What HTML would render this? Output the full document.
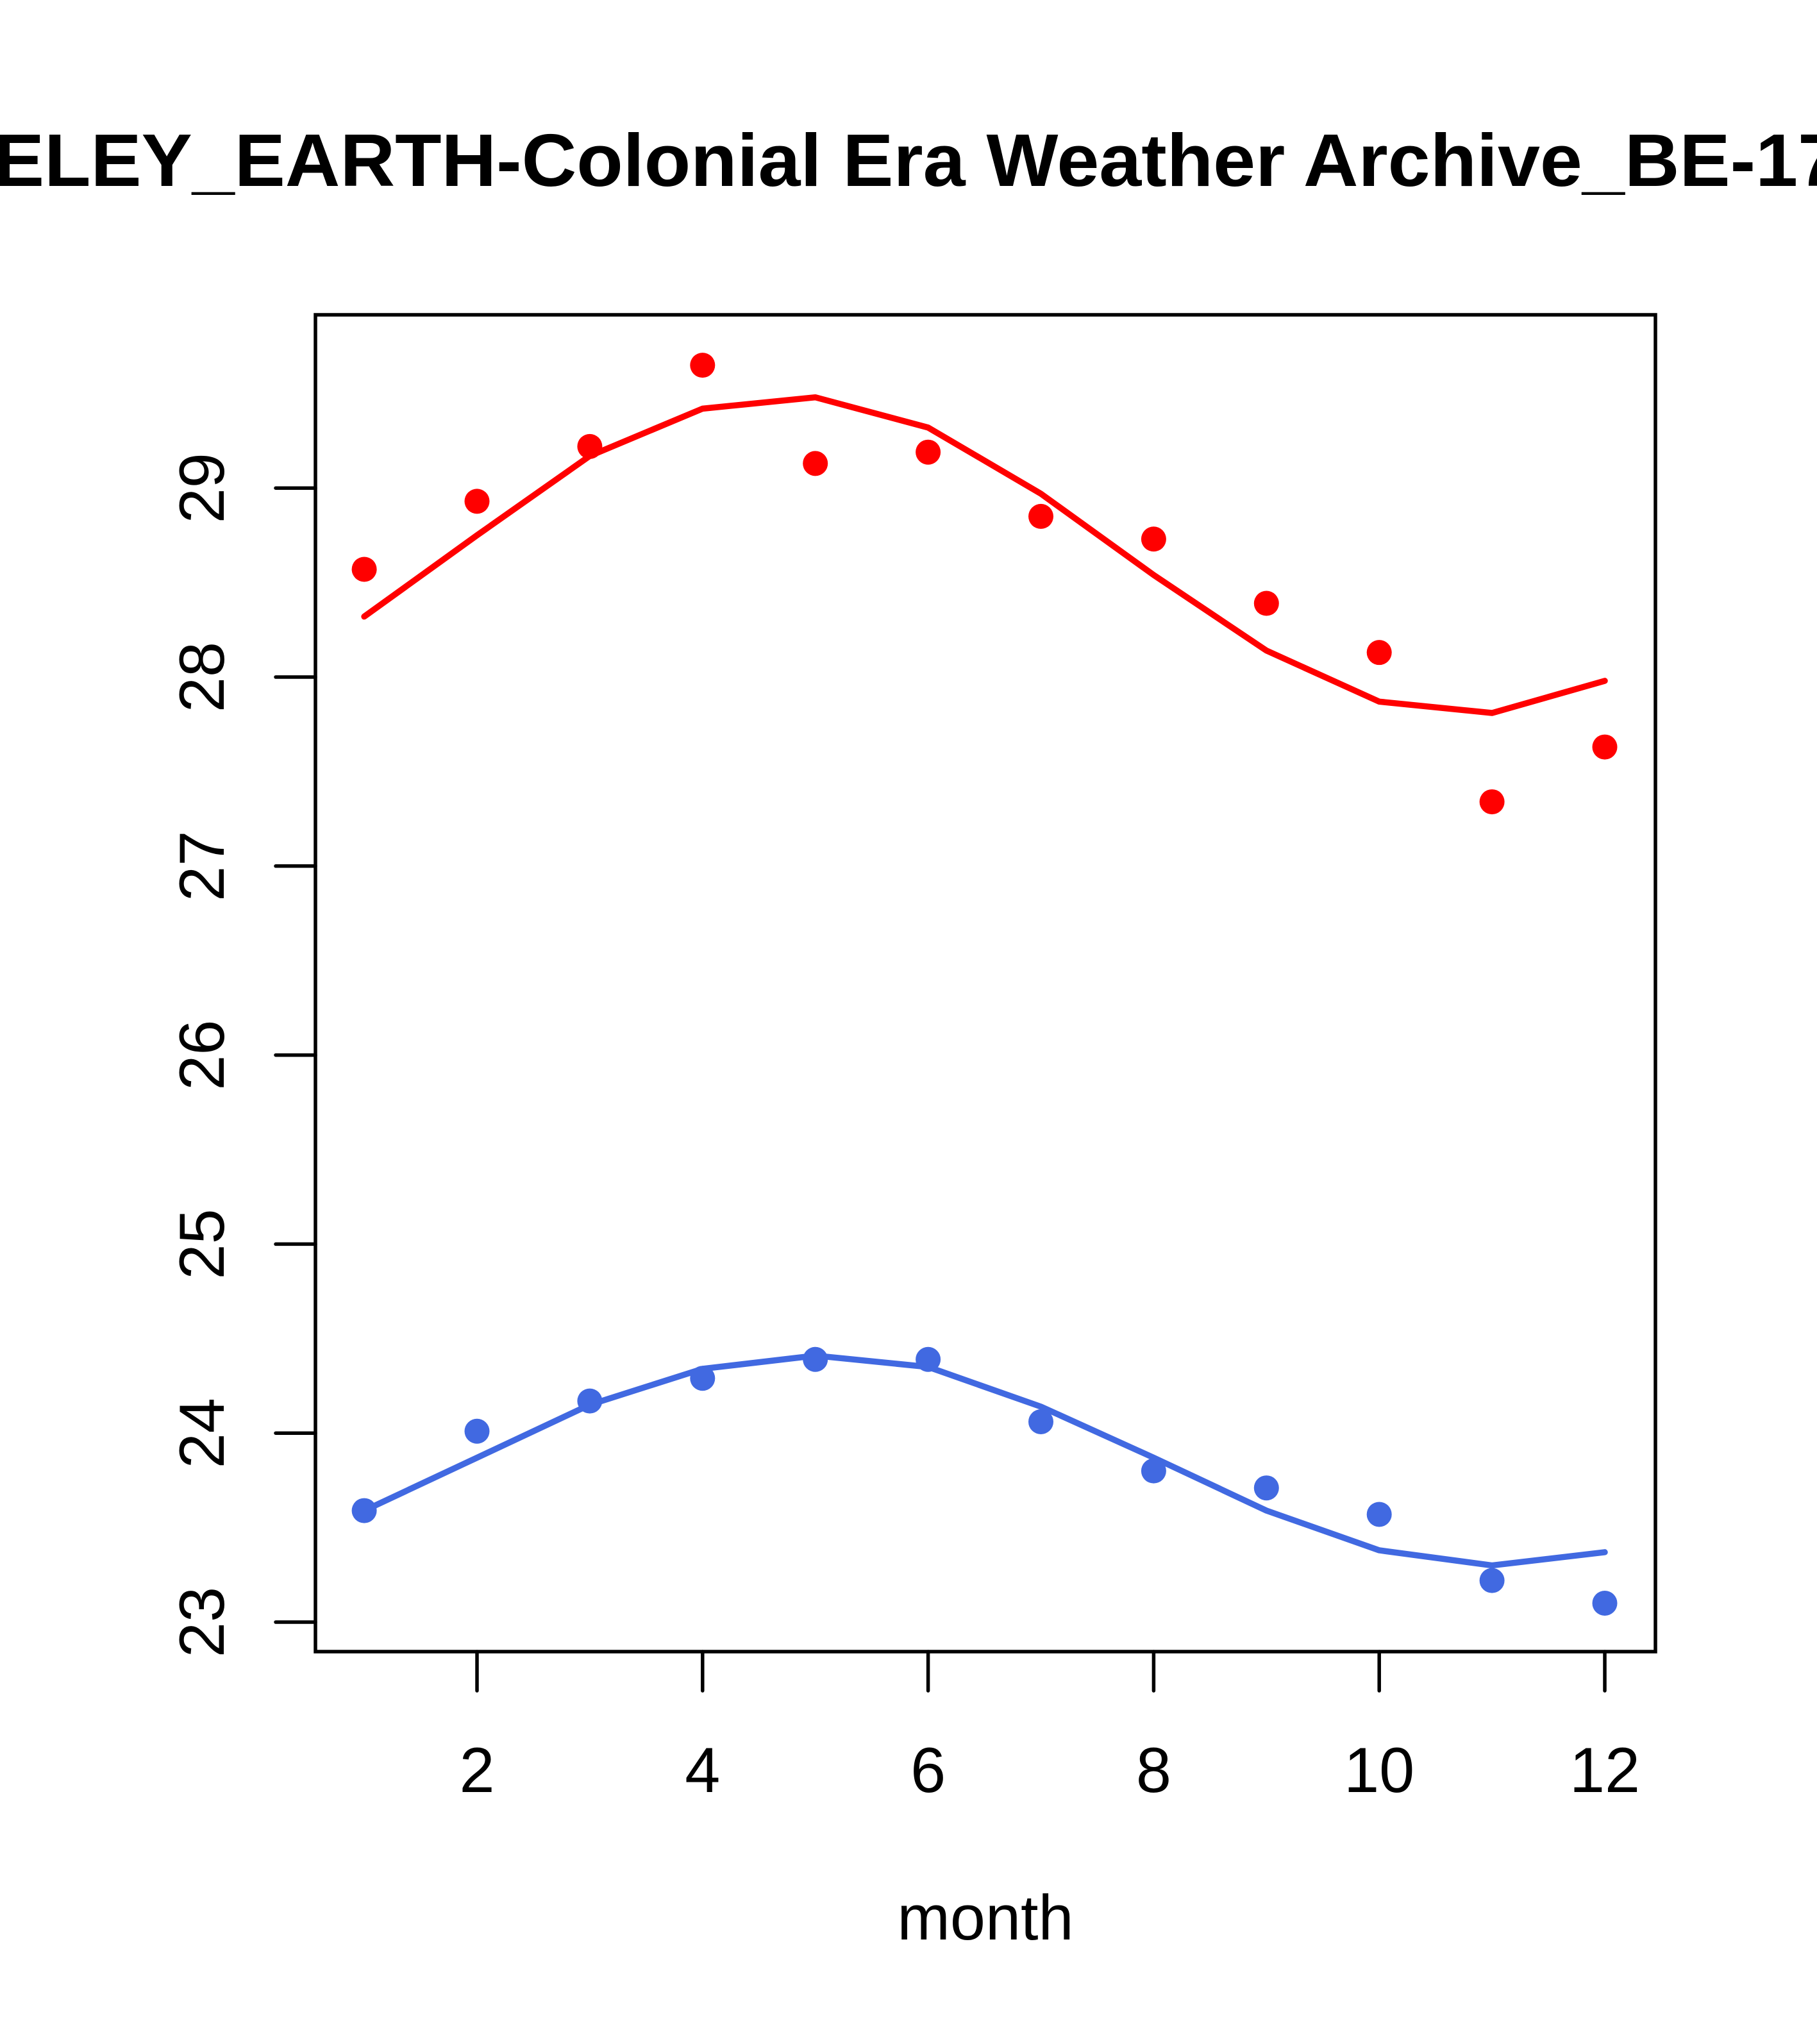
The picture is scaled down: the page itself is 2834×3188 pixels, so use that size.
<!DOCTYPE html>
<html><head><meta charset="utf-8"><style>html,body{margin:0;padding:0;background:#fff}svg{display:block}</style></head>
<body>
<svg id="chart" width="2834" height="3188" viewBox="0 0 2834 3188" xmlns="http://www.w3.org/2000/svg" font-family="Liberation Sans, sans-serif">
<rect width="2834" height="3188" fill="#fff"/>
<text x="-10" y="290" font-size="116" font-weight="bold" text-anchor="end">BERK</text>
<text x="-10" y="290" font-size="116" font-weight="bold" textLength="2880" lengthAdjust="spacingAndGlyphs">ELEY_EARTH-Colonial Era Weather Archive_BE-17</text>
<g id="plot"></g>
</svg>
<script>
const months = [1,2,3,4,5,6,7,8,9,10,11,12];
const redPoints = [28.57,28.93,29.22,29.65,29.13,29.19,28.85,28.73,28.39,28.13,27.34,27.63];
const redLine = [28.32,28.75,29.17,29.42,29.48,29.32,28.97,28.54,28.14,27.87,27.81,27.98];
const bluePoints = [23.59,24.01,24.17,24.29,24.39,24.39,24.06,23.80,23.71,23.57,23.22,23.10];
const blueLine = [23.59,23.87,24.15,24.34,24.41,24.35,24.14,23.87,23.59,23.38,23.30,23.37];
const xTicks = [2,4,6,8,10,12];
const yTicks = [23,24,25,26,27,28,29];

const NS = 'http://www.w3.org/2000/svg';
const g = document.getElementById('plot');
function X(m){ return 744 + (m-2)*175.9; }
function Y(v){ return 2530 - (v-23)*294.8; }
function mk(tag, attrs){ const e=document.createElementNS(NS,tag); for(const k in attrs) e.setAttribute(k,attrs[k]); g.appendChild(e); return e; }

let e;
e = mk('rect',{x:492,y:491,width:2090,height:2085,fill:'none',stroke:'#000','stroke-width':5.5});



xTicks.forEach(t=>{
  let l = mk('line',{x1:X(t),x2:X(t),y1:2576,y2:2637,stroke:'#000','stroke-width':5.5,'stroke-linecap':'round'});
  
  
  let tx = mk('text',{x:X(t),y:2795,'font-size':99,'text-anchor':'middle'});
  tx.textContent = t;
  
  
});
yTicks.forEach(t=>{
  let l = mk('line',{x1:430,x2:492,y1:Y(t),y2:Y(t),stroke:'#000','stroke-width':5.5,'stroke-linecap':'round'});
  
  
  let tx = mk('text',{x:0,y:0,'font-size':99,'text-anchor':'middle',transform:`translate(349,${Y(t)}) rotate(-90)`});
  tx.textContent = t;
  
  
});
e = mk('text',{x:1537,y:3025,'font-size':99,'text-anchor':'middle'});
e.textContent='month';



function series(vals, color, name){
  let p = mk('polyline',{points:months.map((m,i)=>X(m)+','+Y(vals[i])).join(' '),fill:'none',stroke:color,'stroke-width':9.5,'stroke-linejoin':'round','stroke-linecap':'round'});
  
  
}
function pts(vals, color, name){
  months.forEach((m,i)=>{
    let c = mk('circle',{cx:X(m),cy:Y(vals[i]),r:19.5,fill:color});
    
    
  });
}
series(redLine,'#ff0000','red-fit-line');
pts(redPoints,'#ff0000','red-point');
series(blueLine,'#4169e1','blue-fit-line');
pts(bluePoints,'#4169e1','blue-point');
</script>
</body></html>
